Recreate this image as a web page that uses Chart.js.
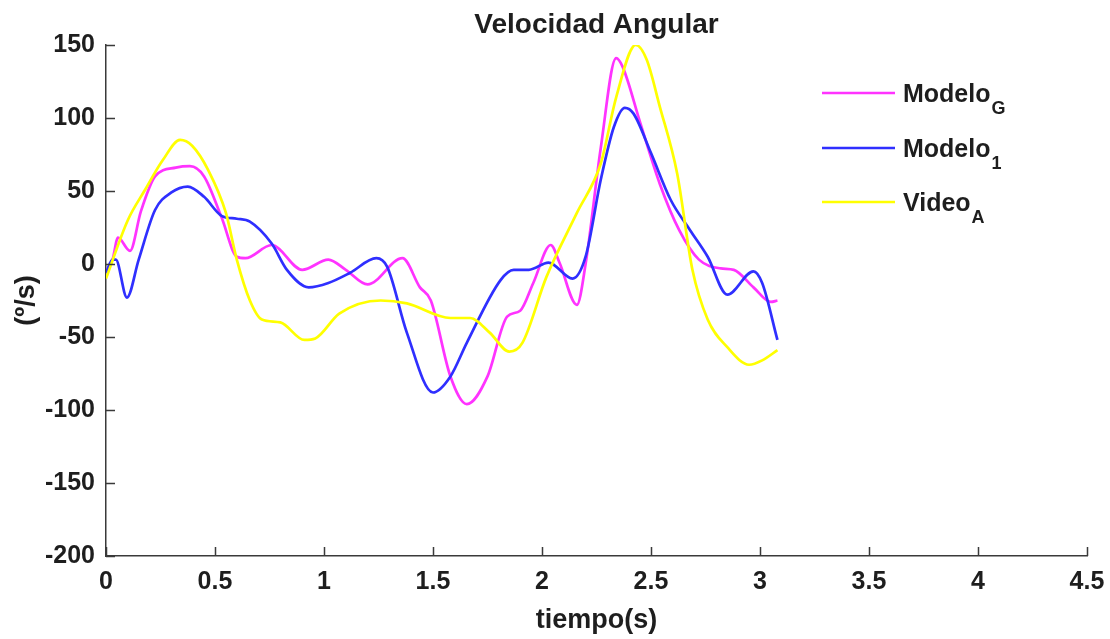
<!DOCTYPE html>
<html>
<head>
<meta charset="utf-8">
<script src="https://cdn.jsdelivr.net/npm/chart.js@4.4.1/dist/chart.umd.min.js"></script>
<style>
  html, body { margin: 0; padding: 0; background: #ffffff; }
  #wrap { width: 1110px; height: 639px; }
</style>
</head>
<body>
<div id="wrap"><canvas id="c" width="1110" height="639"></canvas></div>
<script>
// Angular velocity (deg/s) against time (s) for the three signals
const tModeloG = [0, 0.03, 0.055, 0.11, 0.16, 0.225, 0.32, 0.385, 0.45, 0.53, 0.6, 0.64, 0.76, 0.9, 1.02, 1.1, 1.2, 1.36, 1.44, 1.49, 1.58, 1.655, 1.75, 1.84, 1.9, 1.96, 2.04, 2.08, 2.16, 2.2, 2.27, 2.34, 2.37, 2.45, 2.54, 2.63, 2.72, 2.82, 2.88, 2.97, 3.05, 3.08];
const vModeloG = [-5, 3, 18, 9, 36, 60, 66, 67, 60, 32, 5, 4, 13, -4, 3, -4, -14, 4, -16, -25, -77, -96, -77, -36, -32, -13, 13, 1, -28, 0, 80, 141, 135, 97, 55, 23, 3, -3, -4, -16, -26, -25];

const tModelo1 = [0, 0.03, 0.045, 0.096, 0.15, 0.225, 0.3, 0.375, 0.45, 0.53, 0.6, 0.66, 0.76, 0.83, 0.93, 1.02, 1.12, 1.24, 1.29, 1.38, 1.5, 1.58, 1.655, 1.81, 1.87, 1.94, 2.03, 2.14, 2.2, 2.27, 2.33, 2.38, 2.42, 2.5, 2.59, 2.68, 2.76, 2.85, 2.97, 3.01, 3.08];
const vModelo1 = [-6, 3, 3, -23, 3, 37, 49, 53, 46, 33, 31, 29, 14, -4, -16, -13, -6, 4, -2, -47, -88, -77, -54, -11, -4, -4, 1, -10, 5, 58, 94, 107, 103, 76, 44, 23, 5, -21, -5, -13, -52];

const tVideoA = [0, 0.1, 0.18, 0.26, 0.34, 0.395, 0.47, 0.55, 0.6, 0.66, 0.715, 0.8, 0.91, 0.96, 1.07, 1.26, 1.38, 1.58, 1.67, 1.76, 1.85, 1.91, 2.02, 2.16, 2.27, 2.34, 2.43, 2.48, 2.54, 2.62, 2.69, 2.76, 2.85, 2.95, 3.01, 3.08];
const vVideoA = [-10, 30, 51, 71, 85, 81, 64, 35, 3, -25, -38, -40, -52, -51, -34, -25, -27, -37, -37, -47, -60, -54, -9, 35, 69, 114, 150, 140, 108, 62, -4, -38, -57, -69, -66, -59];

const seriesNames = ['Modelo', 'Modelo', 'Video'];
const seriesSubs = ['G', '1', 'A'];
const seriesColors = ['#ff33ff', '#2f2fff', '#ffff00'];

const xTicks = [0, 0.5, 1, 1.5, 2, 2.5, 3, 3.5, 4, 4.5];
const yTicks = [-200, -150, -100, -50, 0, 50, 100, 150];

const chartTitle = 'Velocidad Angular';
const xTitle = 'tiempo(s)';
const yTitle = '(º/s)';

const FONT = '"Liberation Sans", Arial, sans-serif';
const INK = '#1e1e1e';
const AXIS = '#3a3a3a';

function pairs(ts, vs) { return ts.map((t, i) => ({ x: t, y: vs[i] })); }

const seriesData = [pairs(tModeloG, vModeloG), pairs(tModelo1, vModelo1), pairs(tVideoA, vVideoA)];
const drawOrder = [2, 1, 0];

// Inward tick marks, title, axis titles and subscript legend
const decorations = {
  id: 'decorations',
  afterDraw(chart) {
    const ctx = chart.ctx;
    const xs = chart.scales.x, ys = chart.scales.y;
    const a = chart.chartArea;
    ctx.save();
    ctx.strokeStyle = AXIS;
    ctx.lineWidth = 1.5;
    ctx.beginPath();
    xTicks.forEach(v => {
      const px = Math.round(xs.getPixelForValue(v)) + 0.5;
      ctx.moveTo(px, a.bottom); ctx.lineTo(px, a.bottom - 9);
    });
    yTicks.forEach(v => {
      const py = Math.round(ys.getPixelForValue(v)) + 0.5;
      ctx.moveTo(a.left, py); ctx.lineTo(a.left + 9, py);
    });
    ctx.stroke();

    ctx.fillStyle = INK;
    ctx.textAlign = 'center';
    ctx.textBaseline = 'alphabetic';
    ctx.font = 'bold 28px ' + FONT;
    ctx.fillText(chartTitle, (a.left + a.right) / 2, 33);

    ctx.font = 'bold 27px ' + FONT;
    ctx.textBaseline = 'middle';
    ctx.fillText(xTitle, (a.left + a.right) / 2, 621);
    ctx.save();
    ctx.translate(27, (a.top + a.bottom) / 2);
    ctx.rotate(-Math.PI / 2);
    ctx.fillText(yTitle, 0, 0);
    ctx.restore();

    // legend
    const lx0 = 822, lx1 = 895, tx = 903;
    const rows = [93, 148, 202];
    ctx.textAlign = 'left';
    ctx.textBaseline = 'alphabetic';
    rows.forEach((ly, i) => {
      ctx.strokeStyle = seriesColors[i];
      ctx.lineWidth = 2.5;
      ctx.beginPath();
      ctx.moveTo(lx0, ly); ctx.lineTo(lx1, ly);
      ctx.stroke();
      ctx.fillStyle = INK;
      ctx.font = 'bold 25px ' + FONT;
      ctx.fillText(seriesNames[i], tx, ly + 9);
      const w = ctx.measureText(seriesNames[i]).width;
      ctx.font = 'bold 18px ' + FONT;
      ctx.fillText(seriesSubs[i], tx + w + 1, ly + 21);
    });
    ctx.restore();
  }
};

new Chart(document.getElementById('c'), {
  type: 'line',
  data: {
    datasets: seriesData.map((d, i) => ({
      label: seriesNames[i] + seriesSubs[i],
      data: d,
      borderColor: seriesColors[i],
      backgroundColor: seriesColors[i],
      borderWidth: 2.7,
      pointRadius: 0,
      fill: false,
      cubicInterpolationMode: 'monotone',
      order: drawOrder[i]
    }))
  },
  options: {
    responsive: false,
    animation: false,
    events: [],
    layout: { padding: { top: 45, right: 23, left: 0, bottom: 0 } },
    plugins: { legend: { display: false }, title: { display: false }, tooltip: { enabled: false } },
    scales: {
      x: {
        type: 'linear', min: 0, max: 4.5,
        afterFit(s) { s.height = 83; s.paddingRight = 0; },
        afterBuildTicks(s) { s.ticks = xTicks.map(v => ({ value: v })); },
        grid: { display: true, drawOnChartArea: false, drawTicks: false },
        border: { display: true, color: AXIS, width: 1.5 },
        ticks: { color: INK, font: { family: FONT, size: 25, weight: 'bold' }, padding: 11, maxRotation: 0,
                 callback: v => String(v) }
      },
      y: {
        type: 'linear', min: -200, max: 150,
        afterFit(s) { s.width = 106; },
        afterBuildTicks(s) { s.ticks = yTicks.map(v => ({ value: v })); },
        grid: { display: true, drawOnChartArea: false, drawTicks: false },
        border: { display: true, color: AXIS, width: 1.5 },
        ticks: { color: INK, font: { family: FONT, size: 25, weight: 'bold' }, padding: 11,
                 callback: v => String(v) }
      }
    }
  },
  plugins: [decorations]
});
</script>
</body>
</html>
